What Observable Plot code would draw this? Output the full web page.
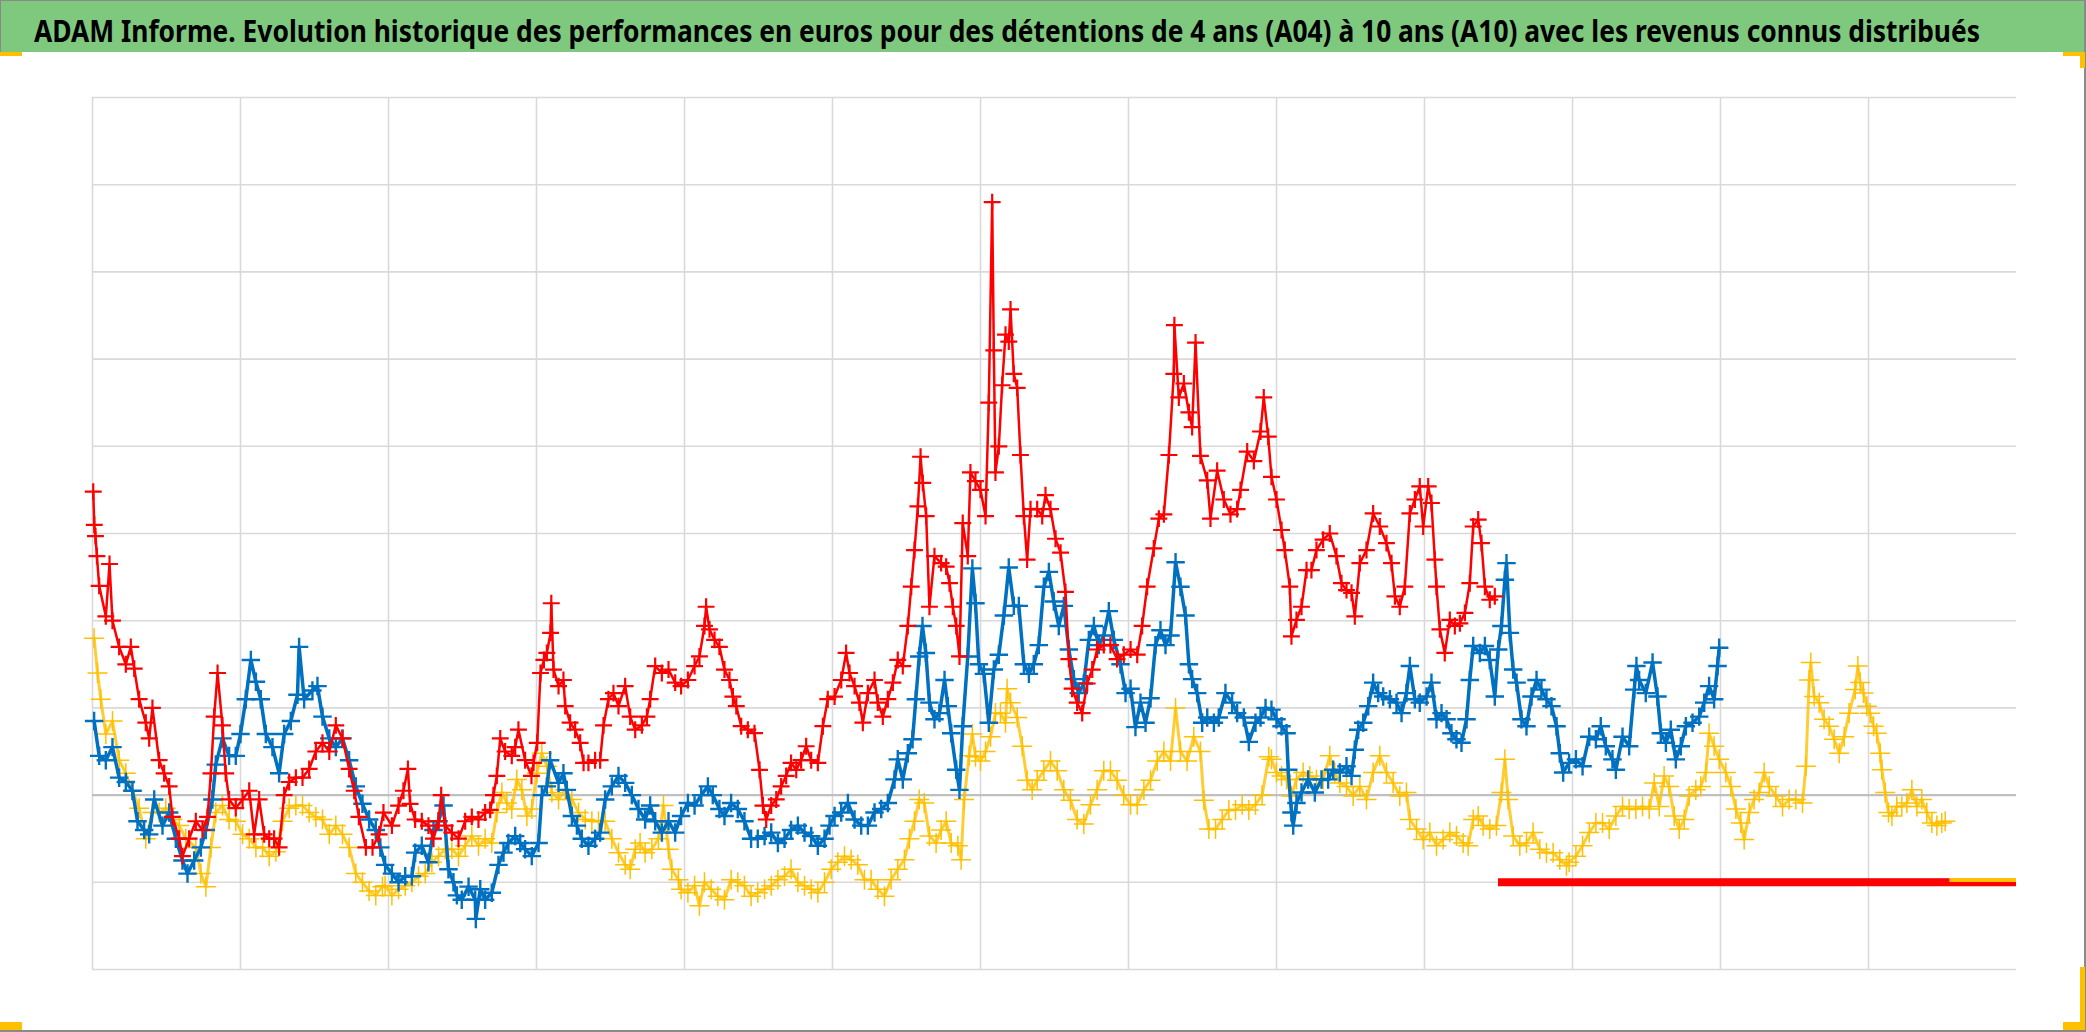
<!DOCTYPE html>
<html>
<head>
<meta charset="utf-8">
<script src="https://cdn.jsdelivr.net/npm/d3@7"></script>
<script src="https://cdn.jsdelivr.net/npm/@observablehq/plot@0.6"></script>
<style>
  html, body { margin: 0; padding: 0; background: #fff; overflow: hidden; }
  #wrap { position: relative; width: 2086px; height: 1032px; background: #fff; }
  #titlebar { position: absolute; left: 0; top: 0; width: 2084px; height: 52px; background: #7fc97f;
    border-top: 1px solid #8a8a8a; border-left: 1px solid #8a8a8a; box-sizing: border-box; }
  #title { position: absolute; left: 33px; top: 8px; white-space: nowrap; transform-origin: 0 0;
    font-family: "Liberation Sans Narrow", "Noto Sans", sans-serif; font-weight: bold; font-size: 31px; color: #000; }
  #chart { position: absolute; left: 0; top: 52px; }
  .deco { position: absolute; background: #ffc000; }
  #border { position: absolute; left: 0; top: 0; width: 2086px; height: 1032px; box-sizing: border-box;
    border-right: 2px solid #8a8a8a; border-bottom: 2px solid #8a8a8a; pointer-events: none; }
</style>
</head>
<body>
<div id="wrap">
  <div id="titlebar"><span id="title">ADAM Informe. Evolution historique des performances en euros pour des détentions de 4 ans (A04) à 10 ans (A10) avec les revenus connus distribués</span></div>
  <div id="chart"></div>
  <div id="border"></div>
  <div class="deco" style="left:0;top:52px;width:22px;height:4px"></div>
  <div class="deco" style="left:2063px;top:52px;width:22px;height:4px"></div>
  <div class="deco" style="left:2080px;top:52px;width:5px;height:16px"></div>
  <div class="deco" style="left:0;top:1022px;width:22px;height:8px"></div>
  <div class="deco" style="left:2063px;top:1022px;width:22px;height:8px"></div>
  <div class="deco" style="left:2080px;top:967px;width:5px;height:63px"></div>
</div>
<script>
// Grid ticks (no labels in the original)
const xTicks = [0,1,2,3,4,5,6,7,8,9,10,11,12];
const yTicks = [-2,-1,0,1,2,3,4,5,6,7,8];

// Series (x in grid units, y in grid units)
const red = [
[0.005,3.48],[0.012,3.1],[0.02,2.97],[0.03,2.74],[0.045,2.4],[0.09,2.05],[0.115,2.65],[0.135,2.0],[0.18,1.7],[0.225,1.5],[0.259,1.7],[0.282,1.45],[0.315,1.1],[0.36,0.83],[0.383,0.65],[0.405,1.0],[0.45,0.4],[0.484,0.25],[0.518,0.1],[0.54,-0.25],[0.586,-0.5],[0.608,-0.7],[0.653,-0.5],[0.698,-0.3],[0.743,-0.4],[0.777,-0.25],[0.8,0.25],[0.822,0.9],[0.845,1.4],[0.878,0.8],[0.9,0.25],[0.923,-0.05],[0.968,-0.15],[1.014,-0.05],[1.059,0.05],[1.092,-0.45],[1.126,-0.05],[1.16,-0.45],[1.194,-0.5],[1.227,-0.5],[1.261,-0.6],[1.295,0],[1.329,0.15],[1.374,0.2],[1.419,0.2],[1.464,0.3],[1.509,0.5],[1.554,0.6],[1.6,0.5],[1.644,0.8],[1.689,0.65],[1.734,0.3],[1.768,0.05],[1.8,-0.25],[1.847,-0.6],[1.892,-0.6],[1.937,-0.45],
[1.966,-0.2],[2.023,-0.35],[2.068,-0.12],[2.101,0.05],[2.131,0.3],[2.146,-0.1],[2.18,-0.28],[2.225,-0.3],[2.27,-0.35],[2.304,-0.5],[2.338,-0.3],[2.356,0.0],[2.383,-0.35],[2.428,-0.43],[2.473,-0.5],[2.518,-0.3],[2.563,-0.25],[2.608,-0.28],[2.653,-0.2],[2.687,-0.17],[2.709,0],[2.732,0.22],[2.755,0.65],[2.788,0.5],[2.833,0.45],[2.856,0.55],[2.878,0.75],[2.923,0.4],[2.966,0.22],[2.98,0.37],[3.005,0.6],[3.027,1.4],[3.05,1.55],[3.07,1.63],[3.095,1.86],[3.1,2.2],[3.115,1.44],[3.149,1.25],[3.182,1.32],[3.194,1.02],[3.227,0.83],[3.261,0.75],[3.295,0.6],[3.318,0.37],[3.351,0.37],[3.396,0.4],[3.43,0.4],[3.453,0.8],[3.486,1.1],[3.52,1.17],[3.554,1.02],[3.599,1.25],[3.633,0.9],[3.667,0.75],[3.712,0.8],[3.746,0.9],[3.768,1.1],[3.802,1.48],[3.847,1.4],[3.892,1.44],[3.937,1.29],
[3.977,1.25],[4.023,1.32],[4.068,1.48],[4.101,1.59],[4.135,1.94],[4.146,2.16],[4.169,1.9],[4.203,1.78],[4.236,1.7],[4.27,1.44],[4.304,1.32],[4.327,1.13],[4.35,1.02],[4.383,0.79],[4.428,0.75],[4.473,0.71],[4.507,0.29],[4.53,-0.12],[4.552,-0.28],[4.586,-0.12],[4.62,-0.05],[4.653,0.1],[4.687,0.22],[4.72,0.37],[4.755,0.29],[4.788,0.4],[4.822,0.56],[4.856,0.4],[4.901,0.37],[4.935,0.79],[4.968,1.1],[5.014,1.13],[5.059,1.32],[5.092,1.63],[5.115,1.4],[5.149,1.25],[5.182,1.06],[5.205,0.83],[5.239,1.17],[5.284,1.32],[5.306,1.06],[5.34,0.9],[5.374,1.1],[5.408,1.29],[5.441,1.55],[5.475,1.48],[5.509,1.94],[5.532,2.39],[5.554,2.81],[5.577,3.31],[5.595,3.88],[5.61,3.58],[5.633,3.2],[5.655,2.16],[5.689,2.74],[5.734,2.66],[5.768,2.62],[5.791,2.43],[5.813,2.16],[5.836,1.94],[5.858,1.59],[5.88,3.12],[5.914,2.74],
[5.932,3.7],[5.966,3.6],[6.0,3.5],[6.034,3.2],[6.056,4.5],[6.079,6.8],[6.09,5.1],[6.101,3.7],[6.124,4.0],[6.146,4.7],[6.169,5.28],[6.191,5.2],[6.203,5.57],[6.225,4.83],[6.248,4.67],[6.27,3.9],[6.293,3.2],[6.315,2.7],[6.338,3.28],[6.383,3.28],[6.417,3.2],[6.439,3.44],[6.473,3.28],[6.507,2.94],[6.541,2.78],[6.574,2.33],[6.597,1.56],[6.619,1.22],[6.653,1.06],[6.687,0.94],[6.721,1.28],[6.755,1.44],[6.788,1.67],[6.833,1.72],[6.878,1.72],[6.923,1.56],[6.968,1.61],[7.014,1.67],[7.059,1.61],[7.092,1.94],[7.126,2.39],[7.171,2.83],[7.205,3.17],[7.239,3.22],[7.273,3.9],[7.306,4.83],[7.31,5.39],[7.34,4.56],[7.374,4.72],[7.408,4.39],[7.43,4.22],[7.453,5.19],[7.486,3.89],[7.532,3.61],[7.554,3.17],[7.599,3.72],[7.644,3.39],[7.689,3.22],[7.734,3.28],[7.757,3.5],[7.802,3.94],[7.847,3.83],[7.892,4.17],[7.914,4.56],[7.944,4.11],
[7.966,3.65],[8.0,3.39],[8.034,3.04],[8.056,2.81],[8.09,2.39],[8.101,1.82],[8.135,2.01],[8.169,2.16],[8.203,2.58],[8.236,2.58],[8.27,2.81],[8.315,2.93],[8.36,3.0],[8.405,2.74],[8.439,2.43],[8.473,2.35],[8.507,2.32],[8.529,2.05],[8.563,2.66],[8.608,2.81],[8.653,3.23],[8.698,3.08],[8.743,2.89],[8.777,2.66],[8.8,2.28],[8.833,2.16],[8.867,2.39],[8.901,3.23],[8.935,3.39],[8.968,3.54],[8.991,3.08],[9.025,3.54],[9.047,3.35],[9.07,2.7],[9.081,2.39],[9.104,1.9],[9.137,1.63],[9.171,2.01],[9.205,1.94],[9.239,1.97],[9.273,2.09],[9.306,2.43],[9.329,3.08],[9.363,3.16],[9.385,2.89],[9.408,2.39],[9.441,2.24],[9.475,2.28]
];

const blue = [
[0.011,0.85],[0.045,0.45],[0.09,0.4],[0.135,0.55],[0.18,0.2],[0.225,0.15],[0.27,0.05],[0.304,-0.3],[0.349,-0.4],[0.383,-0.45],[0.417,-0.05],[0.473,-0.35],[0.518,-0.2],[0.563,-0.5],[0.608,-0.75],[0.642,-0.9],[0.687,-0.75],[0.732,-0.6],[0.766,-0.4],[0.81,-0.05],[0.833,0.35],[0.878,0.65],[0.923,0.45],[0.968,0.45],[1.0,0.7],[1.036,1.1],[1.07,1.55],[1.104,1.3],[1.137,1.1],[1.171,0.7],[1.216,0.55],[1.261,0.25],[1.295,0.7],[1.34,0.85],[1.385,1.15],[1.396,1.7],[1.43,1.1],[1.486,1.2],[1.52,1.25],[1.554,0.9],[1.6,0.65],[1.644,0.55],[1.689,0.65],[1.734,0.4],[1.779,0.1],[1.824,-0.1],[1.869,-0.28],[1.914,-0.4],[1.945,-0.6],
[1.977,-0.8],[2.023,-0.9],[2.068,-1.0],[2.113,-0.93],[2.158,-0.93],[2.18,-0.66],[2.225,-0.58],[2.27,-0.77],[2.304,-0.4],[2.338,-0.3],[2.372,-0.12],[2.405,-0.85],[2.439,-1.0],[2.462,-1.15],[2.495,-1.2],[2.541,-1.05],[2.586,-1.2],[2.59,-1.42],[2.62,-1.08],[2.653,-1.2],[2.698,-1.12],[2.743,-0.8],[2.777,-0.66],[2.81,-0.55],[2.856,-0.47],[2.89,-0.55],[2.923,-0.62],[2.968,-0.7],[3.014,-0.55],[3.036,0],[3.07,0.1],[3.092,0.4],[3.149,0.14],[3.182,0.25],[3.205,0.06],[3.239,-0.24],[3.273,-0.35],[3.306,-0.5],[3.351,-0.58],[3.396,-0.5],[3.43,-0.43],[3.464,-0.05],[3.509,0.1],[3.554,0.22],[3.599,0.14],[3.644,0],[3.689,-0.16],[3.734,-0.28],[3.768,-0.12],[3.802,-0.3],[3.847,-0.43],[3.892,-0.3],[3.937,-0.43],
[3.977,-0.24],[4.023,-0.09],[4.068,-0.12],[4.113,0],[4.158,0.1],[4.191,0],[4.236,-0.16],[4.27,-0.24],[4.315,-0.09],[4.36,-0.16],[4.405,-0.3],[4.45,-0.5],[4.495,-0.5],[4.541,-0.47],[4.586,-0.43],[4.631,-0.55],[4.676,-0.5],[4.72,-0.4],[4.766,-0.35],[4.811,-0.43],[4.856,-0.47],[4.901,-0.58],[4.946,-0.5],[4.98,-0.35],[5.014,-0.24],[5.059,-0.2],[5.104,-0.09],[5.149,-0.28],[5.194,-0.35],[5.239,-0.35],[5.284,-0.2],[5.329,-0.16],[5.374,-0.09],[5.419,0.18],[5.441,0.41],[5.475,0.18],[5.509,0.48],[5.541,0.64],[5.563,1.1],[5.586,1.59],[5.608,1.94],[5.631,1.63],[5.655,1.06],[5.689,0.87],[5.723,0.94],[5.757,1.32],[5.779,1.02],[5.802,0.71],[5.836,0.29],[5.858,0.06],[5.88,0.79],[5.914,1.59],
[5.945,2.6],[5.966,2.2],[5.989,1.5],[6.023,1.39],[6.056,0.83],[6.09,1.44],[6.124,1.61],[6.158,2.06],[6.191,2.61],[6.225,2.17],[6.259,2.17],[6.293,1.5],[6.327,1.39],[6.36,1.5],[6.394,1.72],[6.428,2.39],[6.462,2.56],[6.495,2.22],[6.529,1.94],[6.563,2.17],[6.597,1.67],[6.631,1.33],[6.664,1.17],[6.698,1.28],[6.732,1.78],[6.766,1.94],[6.8,1.72],[6.833,1.83],[6.867,2.11],[6.901,1.78],[6.946,1.5],[6.98,1.17],[7.014,1.22],[7.047,0.78],[7.081,1.06],[7.115,0.83],[7.149,1.11],[7.182,1.72],[7.216,1.89],[7.25,1.72],[7.284,1.83],[7.318,2.67],[7.351,2.39],[7.385,2.06],[7.408,1.5],[7.43,1.33],[7.464,1.17],[7.498,0.83],[7.532,0.89],[7.577,0.83],[7.61,0.89],[7.655,1.17],[7.7,1.06],[7.734,0.94],[7.779,0.89],[7.813,0.61],[7.858,0.83],[7.892,0.89],[7.926,1.0],
[7.966,0.98],[8.0,0.87],[8.034,0.79],[8.068,0.71],[8.079,0.29],[8.101,-0.2],[8.113,-0.35],[8.135,-0.09],[8.169,0.03],[8.214,0.18],[8.259,0.03],[8.304,0.18],[8.349,0.18],[8.383,0.29],[8.428,0.26],[8.473,0.33],[8.507,0.22],[8.529,0.52],[8.552,0.75],[8.586,0.83],[8.62,1.02],[8.653,1.29],[8.687,1.17],[8.721,1.13],[8.766,1.1],[8.811,1.06],[8.845,0.94],[8.878,1.17],[8.901,1.48],[8.935,1.1],[8.968,1.06],[9.014,1.13],[9.047,1.29],[9.081,0.87],[9.115,0.94],[9.149,0.87],[9.182,0.71],[9.216,0.64],[9.25,0.6],[9.284,0.87],[9.306,1.32],[9.329,1.71],[9.374,1.63],[9.408,1.71],[9.441,1.55],[9.475,1.13],[9.498,1.67],[9.52,1.94],[9.543,2.47],[9.554,2.66],[9.577,1.86],[9.599,1.44],[9.622,1.29],[9.655,0.87],[9.689,0.79],[9.723,1.13],[9.757,1.32],[9.79,1.21],[9.824,1.1],[9.858,1.02],[9.892,0.79],[9.914,0.48],[9.937,0.26],
[9.977,0.37],[10.023,0.41],[10.068,0.33],[10.113,0.67],[10.158,0.64],[10.191,0.79],[10.225,0.56],[10.27,0.41],[10.293,0.29],[10.338,0.67],[10.383,0.56],[10.417,1.21],[10.432,1.48],[10.45,1.32],[10.495,1.17],[10.541,1.52],[10.574,1.13],[10.597,0.71],[10.631,0.6],[10.664,0.75],[10.698,0.41],[10.732,0.56],[10.766,0.79],[10.811,0.83],[10.856,0.9],[10.89,1.06],[10.923,1.25],[10.957,1.1],[10.98,1.48],[10.991,1.69]
];

const yellow = [
[0.011,1.8],[0.034,1.4],[0.056,1.1],[0.09,0.7],[0.135,0.85],[0.18,0.4],[0.225,0.25],[0.27,0.05],[0.315,-0.15],[0.36,-0.5],[0.405,-0.2],[0.45,-0.2],[0.495,-0.15],[0.54,-0.28],[0.586,-0.35],[0.63,-0.5],[0.698,-0.6],[0.732,-0.9],[0.766,-1.05],[0.8,-0.6],[0.833,-0.2],[0.878,-0.12],[0.923,-0.28],[0.968,-0.3],[1.014,-0.45],[1.059,-0.5],[1.104,-0.6],[1.149,-0.6],[1.194,-0.7],[1.239,-0.65],[1.284,-0.3],[1.329,-0.15],[1.374,-0.12],[1.419,-0.12],[1.464,-0.2],[1.509,-0.25],[1.554,-0.28],[1.6,-0.45],[1.644,-0.35],[1.689,-0.45],[1.734,-0.6],[1.779,-0.9],[1.824,-1.0],[1.869,-1.1],[1.914,-1.15],[1.959,-1.05],
[1.977,-1.04],[2.023,-1.15],[2.068,-1.08],[2.113,-1.04],[2.158,-1.0],[2.203,-0.93],[2.248,-0.9],[2.293,-0.77],[2.338,-0.7],[2.383,-0.62],[2.428,-0.62],[2.473,-0.7],[2.518,-0.58],[2.563,-0.47],[2.608,-0.58],[2.653,-0.5],[2.698,-0.55],[2.732,-0.2],[2.766,0.03],[2.8,-0.09],[2.833,-0.16],[2.867,0.18],[2.901,0.06],[2.935,-0.24],[2.968,-0.16],[3.002,0.25],[3.036,0.48],[3.07,0.33],[3.104,0.03],[3.149,-0.05],[3.194,0.06],[3.239,-0.05],[3.284,-0.2],[3.329,-0.28],[3.374,-0.3],[3.419,-0.3],[3.464,-0.3],[3.509,-0.5],[3.554,-0.66],[3.599,-0.8],[3.633,-0.85],[3.667,-0.62],[3.7,-0.55],[3.734,-0.66],[3.779,-0.62],[3.824,-0.5],[3.858,-0.12],[3.892,-0.62],[3.914,-0.85],[3.959,-0.97],
[3.977,-1.08],[4.023,-1.12],[4.068,-1.04],[4.101,-1.27],[4.135,-1.0],[4.18,-1.08],[4.225,-1.16],[4.27,-1.2],[4.315,-0.97],[4.36,-1.0],[4.405,-1.04],[4.45,-1.16],[4.495,-1.12],[4.541,-1.08],[4.586,-1.04],[4.631,-0.97],[4.676,-0.93],[4.72,-0.85],[4.766,-1.0],[4.811,-1.04],[4.856,-1.08],[4.901,-1.12],[4.946,-1.0],[4.991,-0.85],[5.036,-0.77],[5.081,-0.7],[5.126,-0.74],[5.171,-0.8],[5.216,-0.97],[5.261,-0.97],[5.306,-1.08],[5.351,-1.16],[5.396,-0.97],[5.441,-0.85],[5.486,-0.74],[5.52,-0.5],[5.554,-0.3],[5.586,-0.05],[5.62,-0.09],[5.655,-0.47],[5.7,-0.55],[5.734,-0.4],[5.768,-0.3],[5.802,-0.55],[5.847,-0.58],[5.869,-0.74],[5.889,-0.05],[5.923,0.45],
[5.945,0.7],[5.966,0.44],[6.0,0.39],[6.034,0.5],[6.068,0.67],[6.101,0.94],[6.135,0.94],[6.169,0.83],[6.18,1.22],[6.203,1.06],[6.248,0.89],[6.282,0.56],[6.315,0.17],[6.349,0.06],[6.383,0.17],[6.428,0.28],[6.473,0.39],[6.518,0.28],[6.563,0.06],[6.608,-0.06],[6.653,-0.28],[6.698,-0.33],[6.743,-0.11],[6.788,0.06],[6.833,0.28],[6.878,0.28],[6.923,0.17],[6.968,0],[7.014,-0.11],[7.059,-0.11],[7.104,0.06],[7.149,0.17],[7.194,0.39],[7.239,0.5],[7.284,0.39],[7.318,1.0],[7.351,0.5],[7.396,0.39],[7.441,0.67],[7.486,0.5],[7.509,-0.06],[7.543,-0.39],[7.588,-0.39],[7.633,-0.28],[7.678,-0.17],[7.723,-0.17],[7.768,-0.11],[7.813,-0.17],[7.858,-0.11],[7.903,0],[7.948,0.44],
[7.966,0.41],[8.0,0.26],[8.034,0.22],[8.068,0.18],[8.101,-0.01],[8.135,0.18],[8.18,0.26],[8.225,0.22],[8.27,0.18],[8.315,0.18],[8.36,0.45],[8.394,0.26],[8.428,0.14],[8.473,0.1],[8.518,-0.01],[8.563,0.1],[8.608,-0.05],[8.653,0.26],[8.698,0.45],[8.743,0.26],[8.788,0.14],[8.833,-0.01],[8.878,0.03],[8.901,-0.28],[8.946,-0.39],[8.991,-0.51],[9.036,-0.43],[9.081,-0.58],[9.126,-0.51],[9.171,-0.43],[9.216,-0.47],[9.261,-0.55],[9.295,-0.58],[9.329,-0.28],[9.363,-0.24],[9.396,-0.35],[9.441,-0.39],[9.486,-0.35],[9.52,0.03],[9.543,0.41],[9.565,-0.05],[9.599,-0.47],[9.644,-0.58],[9.689,-0.55],[9.734,-0.43],[9.779,-0.62],[9.824,-0.66],[9.869,-0.66],[9.914,-0.74],[9.959,-0.81],
[9.977,-0.77],[10.023,-0.7],[10.068,-0.58],[10.113,-0.43],[10.158,-0.32],[10.203,-0.32],[10.248,-0.39],[10.293,-0.24],[10.338,-0.13],[10.383,-0.16],[10.428,-0.16],[10.473,-0.13],[10.518,-0.16],[10.552,0.14],[10.586,-0.13],[10.619,0.22],[10.653,0.1],[10.687,-0.24],[10.721,-0.39],[10.755,-0.28],[10.788,-0.01],[10.833,0.06],[10.867,0.1],[10.901,0.26],[10.923,0.71],[10.957,0.56],[10.991,0.41],[11.036,0.26],[11.07,0.1],[11.104,-0.16],[11.137,-0.32],[11.16,-0.51],[11.194,-0.2],[11.227,-0.05],[11.261,0.03],[11.295,0.26],[11.329,0.1],[11.374,-0.01],[11.419,-0.13],[11.464,-0.05],[11.509,-0.05],[11.554,-0.09],[11.577,0.33],[11.599,1.32],[11.61,1.52],[11.633,1.13],[11.667,1.06],[11.7,0.87],[11.734,0.79],[11.768,0.64],[11.802,0.48],[11.836,0.67],[11.869,0.94],
[11.91,1.21],[11.928,1.48],[11.944,1.29],[11.966,1.17],[11.989,1.02],[12.011,0.94],[12.034,0.79],[12.056,0.71],[12.079,0.48],[12.09,0.29],[12.113,0.03],[12.135,-0.2],[12.158,-0.24],[12.191,-0.13],[12.225,-0.13],[12.259,-0.09],[12.293,0.06],[12.327,-0.13],[12.36,-0.05],[12.394,-0.2],[12.428,-0.32],[12.462,-0.35],[12.495,-0.32],[12.518,-0.3]
];

// Flat segments at the end of the series (value, start, end)
const redFlat = [{y: -1.0, x1: 9.5, x2: 13.0}];
const blueFlat = [{y: -1.0, x1: 11.0, x2: 13.0}];
const yellowFlat = [{y: -0.975, x1: 12.55, x2: 13.0}];

const RED = "#ff0000", BLUE = "#0070c0", YELLOW = "#ffc000";
const X = d => d[0], Y = d => d[1];

const chart = Plot.plot({
  width: 2086,
  height: 980,
  marginLeft: 92,
  marginRight: 70,
  marginTop: 45,
  marginBottom: 63,
  x: {domain: [0, 13], axis: null},
  y: {domain: [-2, 8], axis: null},
  style: {background: "transparent"},
  marks: [
    Plot.ruleX(xTicks, {y1: -2, y2: 8, stroke: "#d9d9d9", strokeWidth: 1.6}),
    Plot.ruleY(yTicks, {x1: 0, x2: 13, stroke: "#d9d9d9", strokeWidth: 1.6}),
    Plot.ruleY([0], {x1: 0, x2: 13, stroke: "#bfbfbf", strokeWidth: 2.2}),
    Plot.line(yellow, {x: X, y: Y, stroke: YELLOW, strokeWidth: 3, strokeOpacity: 0.8}),
    Plot.dot(yellow, {x: X, y: Y, symbol: "plus", r: 6.5, stroke: YELLOW, strokeWidth: 1.5}),
    Plot.ruleY(blueFlat, {y: "y", x1: "x1", x2: "x2", stroke: BLUE, strokeWidth: 7}),
    Plot.line(blue, {x: X, y: Y, stroke: BLUE, strokeWidth: 3.5}),
    Plot.dot(blue, {x: X, y: Y, symbol: "plus", r: 6, stroke: BLUE, strokeWidth: 2.4}),
    Plot.ruleY(redFlat, {y: "y", x1: "x1", x2: "x2", stroke: RED, strokeWidth: 8}),
    Plot.line(red, {x: X, y: Y, stroke: RED, strokeWidth: 2.5}),
    Plot.dot(red, {x: X, y: Y, symbol: "plus", r: 5.5, stroke: RED, strokeWidth: 2.2}),
    Plot.ruleY(yellowFlat, {y: "y", x1: "x1", x2: "x2", stroke: YELLOW, strokeWidth: 4})
  ]
});
document.getElementById("chart").appendChild(chart);

// Fit title to its measured width in the original (x 33 → 1979)
const t = document.getElementById("title");
const w = t.getBoundingClientRect().width;
if (w > 0) t.style.transform = `scaleX(${1946 / w})`;
</script>
</body>
</html>
